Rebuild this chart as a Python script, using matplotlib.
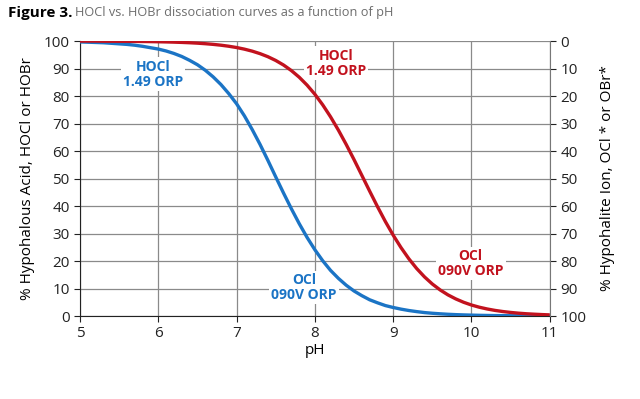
import matplotlib
matplotlib.use("Agg")
import matplotlib.pyplot as plt

# pH readings, every 0.1 from 5 to 11
ph = [round(5 + 0.1 * i, 1) for i in range(61)]

# % hypohalous acid
blue_acid = [99.7, 99.6, 99.5, 99.4, 99.2, 99.0, 98.8, 98.5, 98.1, 97.6,
             97.1, 96.4, 95.5, 94.4, 93.0, 91.4, 89.4, 87.0, 84.2, 80.9,
             77.2, 72.8, 67.8, 62.4, 56.6, 50.6, 44.7, 39.0, 33.6, 28.6,
             24.1, 20.1, 16.6, 13.7, 11.2, 9.1, 7.4, 5.9, 4.8, 3.8,
             3.1, 2.5, 2.0, 1.6, 1.25, 1.0, 0.8, 0.63, 0.5, 0.4,
             0.32, 0.25, 0.2, 0.16, 0.13, 0.1, 0.08, 0.06, 0.05, 0.04,
             0.03]
red_acid = [100.0, 100.0, 100.0, 99.95, 99.94, 99.92, 99.9, 99.88, 99.85, 99.81,
            99.76, 99.7, 99.62, 99.52, 99.4, 99.25, 99.05, 98.81, 98.51, 98.13,
            97.66, 97.07, 96.34, 95.43, 94.32, 92.95, 91.29, 89.27, 86.86, 83.99,
            80.66, 76.81, 72.46, 67.63, 62.41, 56.89, 51.15, 45.4, 39.76, 34.38,
            29.41, 24.89, 20.83, 17.28, 14.23, 11.64, 9.48, 7.68, 6.21, 4.99,
            4.0, 3.2, 2.56, 2.04, 1.63, 1.3, 1.03, 0.82, 0.66, 0.52,
            0.41]

BLUE = "#1b74c5"
RED = "#c2121e"

plt.rcParams['font.family'] = ['Open Sans', 'DejaVu Sans']

fig = plt.figure(figsize=(6.4, 3.99), dpi=100)
ax = fig.add_axes([0.125, 0.208, 0.734, 0.689])

ax.plot(ph, blue_acid, color=BLUE, lw=2.4, solid_capstyle='butt', zorder=3)
ax.plot(ph, red_acid, color=RED, lw=2.4, solid_capstyle='butt', zorder=3)

ax.set_xlim(5, 11)
ax.set_ylim(0, 100)
ax.set_xticks(range(5, 12))
ax.set_yticks(range(0, 101, 10))
ax.grid(True, color="#8a8a8a", lw=0.9)
ax.set_axisbelow(True)
for s in ["top", "right"]:
    ax.spines[s].set_visible(False)
ax.spines["left"].set_color("#222222")
ax.spines["bottom"].set_color("#222222")
ax.tick_params(direction='out', length=4, labelsize=11, colors="#222222")
ax.set_xlabel("pH", fontsize=11, labelpad=1)
ax.set_ylabel("% Hypohalous Acid, HOCl or HOBr", fontsize=11, labelpad=6)

ax2 = ax.twinx()
ax2.set_ylim(100, 0)
ax2.set_yticks(range(0, 101, 10))
for s in ["top", "left", "bottom"]:
    ax2.spines[s].set_visible(False)
ax2.spines["right"].set_color("#777777")
ax2.tick_params(direction='out', length=4, labelsize=11, colors="#222222")
ax2.set_ylabel("% Hypohalite Ion, OCl * or OBr*", fontsize=11, labelpad=10)

# curve labels sit on white patches over the grid, under the curves
box = dict(boxstyle="square,pad=0.15", fc="white", ec="none")
lbl = dict(fontsize=10, fontweight='bold', ha='center', va='center',
           linespacing=1.1, bbox=box, zorder=2)
ax.text(5.93, 88, "HOCl\n1.49 ORP", color=BLUE, **lbl)
ax.text(8.27, 92, "HOCl\n1.49 ORP", color=RED, **lbl)
ax.text(7.86, 10.5, "OCl\n090V ORP", color=BLUE, **lbl)
ax.text(9.99, 19, "OCl\n090V ORP", color=RED, **lbl)

fig.text(0.012, 0.968, "Figure 3.", fontsize=11, fontweight='bold', va='center')
fig.text(0.117, 0.968, "HOCl vs. HOBr dissociation curves as a function of pH",
         fontsize=9.2, color="#6d6d6d", va='center')

fig.savefig("out.png", dpi=100)
